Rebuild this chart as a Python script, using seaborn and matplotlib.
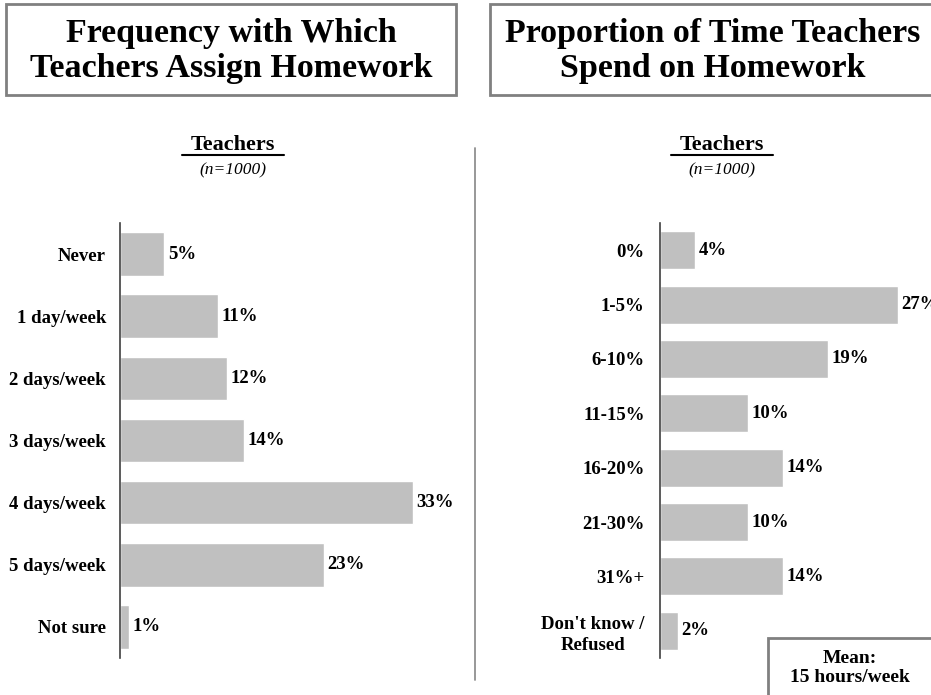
import matplotlib
matplotlib.use("Agg")
import matplotlib.pyplot as plt
import seaborn as sns
from matplotlib.patches import Rectangle
from matplotlib.lines import Line2D

sns.set_style("white")
plt.rcParams['font.family'] = ['Liberation Serif', 'DejaVu Serif']
plt.rcParams['text.color'] = 'black'
plt.rcParams['ytick.color'] = 'black'
plt.rcParams['ytick.labelcolor'] = 'black'

freq_cats = ["Never", "1 day/week", "2 days/week", "3 days/week", "4 days/week", "5 days/week", "Not sure"]
freq_vals = [5, 11, 12, 14, 33, 23, 1]

prop_cats = ["0%", "1-5%", "6-10%", "11-15%", "16-20%", "21-30%", "31%+", "Don't know /\nRefused"]
prop_vals = [4, 27, 19, 10, 14, 10, 14, 2]

titles = ["Frequency with Which\nTeachers Assign Homework", "Proportion of Time Teachers\nSpend on Homework"]
subtitle = "Teachers"
n_label = "(n=1000)"
mean_text = "Mean:\n15 hours/week"

W, H = 931, 695
fig = plt.figure(figsize=(W / 100, H / 100), dpi=100)

def fx(px):
    return px / W

def fy(py):
    return 1 - py / H

bar_color = "#C0C0C0"

def draw_panel(rect, cats, vals, xmax, pad):
    ax = fig.add_axes(rect)
    sns.barplot(x=vals, y=cats, orient="h", color=bar_color, saturation=1, width=0.7, ax=ax)
    ax.set_xlim(0, xmax)
    n = len(cats)
    ax.set_ylim(n - 0.5, -0.5)
    for s in ["top", "right", "bottom"]:
        ax.spines[s].set_visible(False)
    ax.spines["left"].set_color("#404040")
    ax.spines["left"].set_linewidth(1.2)
    ax.set_xticks([])
    ax.set_xlabel("")
    ax.set_ylabel("")
    ax.tick_params(axis="y", which="major", length=0, pad=pad)
    ax.set_yticks(range(n))
    labels = ax.set_yticklabels(cats, fontsize=13.5, fontweight="bold", linespacing=1.3)
    for lb in labels:
        lb.set_multialignment("center")
    ax.set_yticks([i - 0.5 for i in range(n + 1)], minor=True)
    ax.tick_params(axis="y", which="minor", length=6, width=1.2, color="#404040", direction="out")
    for i, v in enumerate(vals):
        ax.annotate(f"{v}%", xy=(v, i), xytext=(2.5, 0), textcoords="offset points",
                    va="center", ha="left", fontsize=13.5, fontweight="bold",
                    annotation_clip=False)
    return ax

draw_panel([fx(120), fy(658), fx(340), 435 / H], freq_cats, freq_vals, 340 / 8.88, 10)
draw_panel([fx(660), fy(658), fx(271), 435 / H], prop_cats, prop_vals, 271 / 8.82, 11)

# Title boxes
for (x0, x1), title, cx in [((6, 456), titles[0], 231), ((490, 940), titles[1], 713)]:
    fig.patches.append(Rectangle((fx(x0), fy(95)), fx(x1 - x0), (95 - 4) / H,
                                 transform=fig.transFigure, facecolor="white",
                                 edgecolor="#808080", linewidth=2))
    fig.text(fx(cx), fy(51), title, ha="center", va="center", fontsize=24.5,
             fontweight="bold", linespacing=1.2)

# Subtitles
for cx in [233, 722]:
    fig.text(fx(cx), fy(145), subtitle, ha="center", va="center", fontsize=16,
             fontweight="bold")
    fig.lines.append(Line2D([fx(cx - 51), fx(cx + 51)], [fy(155), fy(155)],
                            transform=fig.transFigure, color="black", linewidth=1.5))
    fig.text(fx(cx), fy(170), n_label, ha="center", va="center", fontsize=12.5,
             style="italic")

# Divider
fig.lines.append(Line2D([fx(475), fx(475)], [fy(148), fy(680)],
                        transform=fig.transFigure, color="#909090", linewidth=1.3))

# Mean box
fig.patches.append(Rectangle((fx(768), fy(700)), fx(180), (700 - 638) / H,
                             transform=fig.transFigure, facecolor="white",
                             edgecolor="#808080", linewidth=2))
fig.text(fx(850), fy(668), mean_text, ha="center", va="center", fontsize=14,
         fontweight="bold", linespacing=1.15)

fig.savefig("out.png", dpi=100)
